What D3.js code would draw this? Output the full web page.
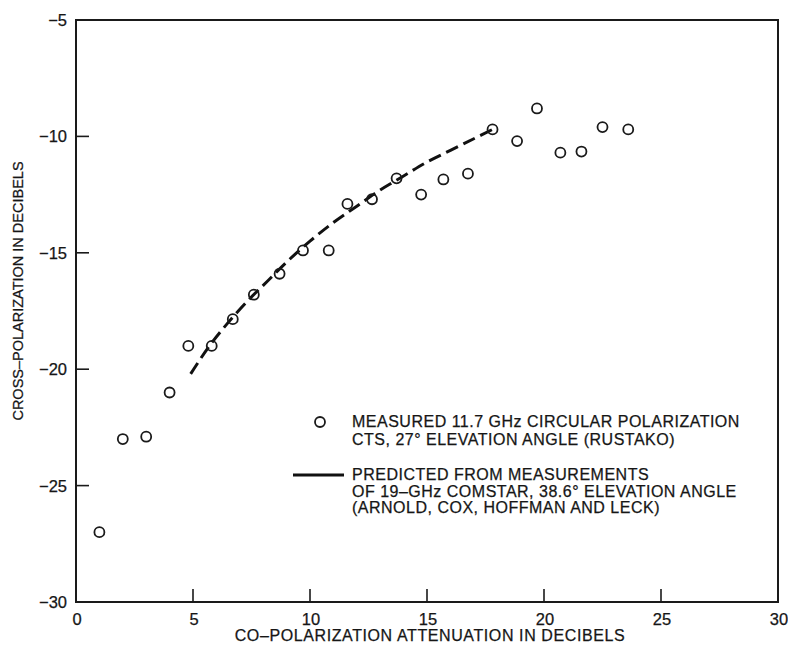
<!DOCTYPE html>
<html lang="en">
<head>
    <meta charset="UTF-8">
    <title>Cross-polarization vs co-polarization attenuation</title>
    <script src="https://d3js.org/d3.v7.min.js"></script>
    <style>
        body { margin: 0; background: #fff; }
        svg { display: block; }
        text { font-family: "Liberation Sans", Arial, Helvetica, sans-serif; fill: #161616; stroke: #161616; stroke-width: 0.25px; }
        .frame { fill: none; stroke: #1a1a1a; stroke-width: 2px; }
        .tick { stroke: #1a1a1a; stroke-width: 1.6px; }
        .ticklabel { font-size: 16.5px; }
        .xtitle { font-size: 16px; letter-spacing: 0.6px; }
        .ytitle { font-size: 14.5px; }
        .legend { font-size: 16px; letter-spacing: 0.5px; }
        .dot { fill: none; stroke: #1a1a1a; stroke-width: 1.8px; }
        .curve { fill: none; stroke: #111; stroke-width: 3px; stroke-dasharray: 13 6; }
    </style>
</head>
<body>
<svg id="chart" width="788" height="648"></svg>
<script>
    // measured points (Rustako, CTS 11.7 GHz)
    const measuredX = [1.0, 2.0, 3.0, 4.0, 4.8, 5.8, 6.7, 7.6, 8.7, 9.7, 10.8, 11.6,
                       12.65, 13.7, 14.75, 15.7, 16.75, 17.8, 18.85, 19.7, 20.7, 21.6, 22.5, 23.6];
    const measuredY = [-27.0, -23.0, -22.9, -21.0, -19.0, -19.0, -17.85, -16.8, -15.9, -14.9, -14.9, -12.9,
                       -12.7, -11.8, -12.5, -11.85, -11.6, -9.7, -10.2, -8.8, -10.7, -10.65, -9.6, -9.7];

    // predicted curve (Comstar 19 GHz)
    const predictedX = [4.9, 5.7, 6.5, 7.4, 8.2, 9.0, 10.0, 11.0, 12.0, 13.0, 14.0, 15.0, 16.0, 17.0, 17.8];
    const predictedY = [-20.2, -19.0, -18.0, -17.0, -16.2, -15.4, -14.5, -13.7, -13.0, -12.3, -11.7, -11.1, -10.6, -10.1, -9.7];

    const xTicks = [0, 5, 10, 15, 20, 25, 30];
    const yTicks = [-5, -10, -15, -20, -25, -30];

    const legendMeasured = ["MEASURED 11.7 GHz CIRCULAR POLARIZATION", "CTS, 27\u00B0 ELEVATION ANGLE (RUSTAKO)"];
    const legendPredicted = ["PREDICTED FROM MEASUREMENTS", "OF 19\u2013GHz COMSTAR, 38.6\u00B0 ELEVATION ANGLE", "(ARNOLD, COX, HOFFMAN AND LECK)"];

    const svg = d3.select("#chart");
    const plotLeft = 76, plotRight = 778, plotTop = 20, plotBottom = 602;

    const x = d3.scaleLinear().domain([0, 30]).range([plotLeft, plotRight]);
    const y = d3.scaleLinear().domain([-30, -5]).range([plotBottom, plotTop]);

    // frame
    svg.append("rect")
        .attr("class", "frame")
        .attr("x", plotLeft).attr("y", plotTop)
        .attr("width", plotRight - plotLeft).attr("height", plotBottom - plotTop);

    // x ticks (inward) and labels
    svg.selectAll(".xtick")
        .data(xTicks.filter(d => d > 0 && d < 30))
        .enter().append("line")
        .attr("class", "tick")
        .attr("x1", d => x(d)).attr("x2", d => x(d))
        .attr("y1", plotBottom).attr("y2", plotBottom - 13);

    svg.selectAll(".xlab")
        .data(xTicks)
        .enter().append("text")
        .attr("class", "ticklabel")
        .attr("x", d => x(d) + 1)
        .attr("y", plotBottom + 23)
        .attr("text-anchor", "middle")
        .text(d => d);

    // y ticks and labels
    svg.selectAll(".ytick")
        .data(yTicks.filter(d => d > -30 && d < -5))
        .enter().append("line")
        .attr("class", "tick")
        .attr("x1", plotLeft).attr("x2", plotLeft + 13)
        .attr("y1", d => y(d)).attr("y2", d => y(d));

    svg.selectAll(".ylab")
        .data(yTicks)
        .enter().append("text")
        .attr("class", "ticklabel")
        .attr("x", plotLeft - 9)
        .attr("y", d => y(d))
        .attr("dy", "0.36em")
        .attr("text-anchor", "end")
        .text(d => "\u2212" + Math.abs(d));

    // axis titles
    svg.append("text")
        .attr("class", "xtitle")
        .attr("x", 430).attr("y", 641)
        .attr("text-anchor", "middle")
        .text("CO\u2013POLARIZATION ATTENUATION IN DECIBELS");

    svg.append("text")
        .attr("class", "ytitle")
        .attr("transform", "translate(23,291) rotate(-90)")
        .attr("text-anchor", "middle")
        .text("CROSS\u2013POLARIZATION IN DECIBELS");

    // predicted dashed curve
    const line = d3.line()
        .x(d => x(d[0]))
        .y(d => y(d[1]))
        .curve(d3.curveCatmullRom);

    svg.append("path")
        .datum(d3.zip(predictedX, predictedY))
        .attr("class", "curve")
        .attr("d", line);

    // measured circles
    svg.selectAll(".dot")
        .data(d3.zip(measuredX, measuredY))
        .enter().append("circle")
        .attr("class", "dot")
        .attr("cx", d => x(d[0]))
        .attr("cy", d => y(d[1]))
        .attr("r", 5);

    // legend
    svg.append("circle")
        .attr("class", "dot")
        .attr("cx", 320).attr("cy", 422).attr("r", 5);

    svg.append("line")
        .attr("x1", 293).attr("x2", 344)
        .attr("y1", 475).attr("y2", 475)
        .attr("stroke", "#111").attr("stroke-width", 3);

    svg.selectAll(".legm")
        .data(legendMeasured)
        .enter().append("text")
        .attr("class", "legend")
        .attr("x", 352)
        .attr("y", (d, i) => 427 + i * 18)
        .text(d => d);

    svg.selectAll(".legp")
        .data(legendPredicted)
        .enter().append("text")
        .attr("class", "legend")
        .attr("x", 352)
        .attr("y", (d, i) => 480 + i * 16.5)
        .text(d => d);
</script>
</body>
</html>
